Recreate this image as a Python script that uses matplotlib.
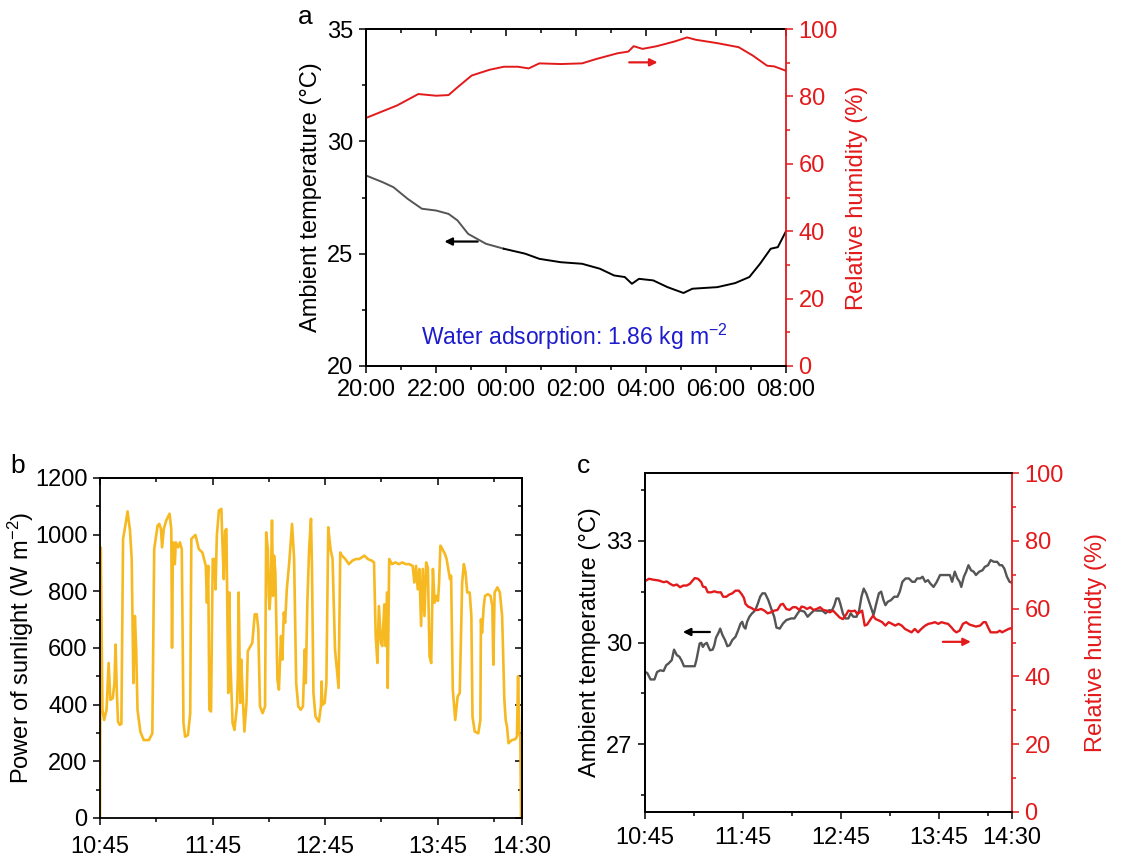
import matplotlib
matplotlib.use("Agg")
import matplotlib.pyplot as plt
from matplotlib.ticker import MultipleLocator

plt.rcParams['font.family'] = ['Liberation Sans', 'DejaVu Sans']
plt.rcParams['mathtext.fontset'] = 'custom'
plt.rcParams['mathtext.rm'] = 'Liberation Sans'
plt.rcParams['mathtext.default'] = 'regular'

RED = '#e31a1c'
GOLD = '#f6b921'
GREY = '#555555'
FS = 17

# ---- panel a data (hours after 20:00) ----
a_hours_labels = ['20:00', '22:00', '00:00', '02:00', '04:00', '06:00', '08:00']
a_rh_h = [0, 0.885, 1.495, 2.003, 2.359, 2.614, 3.020, 3.529, 3.936, 4.343, 4.648, 4.953,
          5.563, 6.173, 6.580, 7.190, 7.495, 7.648, 7.902, 8.309, 8.817, 9.173, 9.427,
          10.038, 10.648, 11.054, 11.461, 11.665, 12.0]
a_rh = [73.6, 77.3, 80.7, 80.2, 80.4, 82.7, 86.2, 87.9, 88.8, 88.8, 88.3, 89.8,
        89.6, 89.8, 91.1, 92.8, 93.3, 94.9, 94.1, 94.9, 96.3, 97.5, 96.8,
        95.8, 94.6, 92.1, 89.1, 88.9, 87.6]
a_t_h = [0, 0.478, 0.783, 1.190, 1.597, 2.003, 2.359, 2.614, 2.919, 3.427, 3.936, 4.546,
         4.953, 5.563, 6.173, 6.682, 7.088, 7.393, 7.597, 7.800, 8.207, 8.614, 9.071,
         9.326, 10.038, 10.546, 10.953, 11.258, 11.563, 11.766, 12.0]
a_temp = [28.48, 28.18, 27.96, 27.44, 27.0, 26.92, 26.77, 26.48, 25.88, 25.44, 25.22, 25.0,
          24.77, 24.62, 24.55, 24.33, 24.03, 23.96, 23.66, 23.88, 23.81, 23.51, 23.25,
          23.44, 23.51, 23.69, 23.96, 24.55, 25.22, 25.29, 26.0]

# ---- panel b data (minutes after 10:45) ----
bc_tick_labels = ['10:45', '11:45', '12:45', '13:45', '14:30']
b_min = [0, 0.4, 1.3, 2.2, 3.5, 4.6, 5.5, 6.8, 7.7, 8.3, 9.0, 9.6, 10.5, 11.4, 12.3, 13.2,
         14.7, 16.0, 16.9, 17.8, 18.6, 19.3, 20.0, 21.5, 23.3, 26.1, 27.9, 28.9, 30.7, 31.6,
         32.5, 33.1, 34.0, 35.3, 37.1, 38.0, 38.4, 38.9, 39.9, 40.4, 41.7, 42.6, 43.6, 44.5,
         45.4, 46.9, 48.1, 48.7, 50.9, 52.7, 54.6, 56.4, 57.0, 57.7, 58.3, 59.2, 60.1, 61.0,
         61.6, 62.3, 63.4, 64.7, 65.2, 66.0, 66.7, 67.4, 68.4, 68.9, 69.6, 70.7, 71.7, 73.0,
         73.5, 73.9, 74.8, 75.3, 76.1, 77.0, 78.1, 78.8, 80.3, 81.2, 82.5, 83.6, 84.4, 85.3,
         86.7, 88.0, 88.6, 89.5, 90.0, 90.4, 91.0, 91.7, 92.3, 92.8, 93.5, 94.6, 95.4, 96.5,
         97.2, 98.0, 98.7, 99.6, 100.9, 102.4, 103.5, 104.6, 105.7, 107.0, 108.2, 109.2,
         109.7, 110.6, 111.5, 112.5, 113.0, 113.8, 114.9, 116.7, 117.8, 118.2, 118.5, 119.8,
         120.7, 121.7, 122.9, 124.0, 125.3, 127.2, 128.1, 129.0, 130.8, 132.7, 134.5, 136.4,
         138.2, 141.0, 142.8, 145.0, 146.1, 147.0, 147.9, 148.7, 149.8, 150.5, 151.6, 152.3,
         153.1, 153.4, 154.2, 155.7, 157.5, 159.3, 161.2, 163.0, 164.8, 166.7, 167.6, 168.5,
         169.4, 170.3, 171.2, 172.1, 173.0, 173.9, 174.8, 175.7, 176.6, 177.5, 178.4, 179.3,
         180.2, 180.8, 181.5, 182.6, 183.9, 184.8, 185.7, 186.6, 187.2, 188.1, 189.4, 190.7,
         191.8, 192.5, 193.1, 194.0, 194.9, 195.8, 197.1, 198.0, 198.6, 199.8, 201.7, 202.8,
         203.1, 203.7, 204.6, 205.3, 206.8, 208.2, 209.2, 209.7, 210.4, 211.9, 213.2, 214.4,
         215.6, 216.3, 217.0, 217.8, 219.6, 221.4, 222.3, 222.9, 223.6, 224.1, 224.5]
b_power = [0, 955, 382, 346, 382, 547, 417, 423, 476, 612, 441, 340, 329, 332, 985, 1020,
           1082, 1014, 914, 476, 713, 595, 382, 305, 275, 275, 299, 949, 1032, 1038,
           1020, 955, 1020, 1050, 1074, 1020, 601, 973, 896, 973, 955, 973, 949, 335,
           287, 293, 370, 985, 999, 949, 937, 890, 760, 890, 382, 376, 914, 914,
           807, 997, 1085, 1091, 985, 843, 1014, 1020, 441, 796, 536, 335, 311, 394,
           500, 796, 406, 559, 429, 305, 406, 589, 607, 618, 719, 719, 666, 394,
           370, 394, 1008, 949, 784, 737, 796, 1050, 784, 926, 867, 488, 453, 642,
           559, 725, 689, 807, 902, 1038, 914, 476, 394, 382, 394, 595,
           476, 772, 949, 1056, 890, 441, 358, 340, 394, 482, 399, 406,
           476, 1026, 949, 914, 595, 459, 937, 926, 914, 896, 908, 914,
           914, 926, 914, 908, 902, 642, 547, 748, 618, 607, 754, 607,
           796, 459, 914, 896, 902, 896, 902, 896, 896, 890, 831, 890,
           807, 879, 678, 879, 713, 902, 884, 571, 547, 879, 760, 784,
           766, 831, 961, 949, 932, 914, 879, 843, 855, 453, 346, 429,
           441, 642, 831, 896, 867, 796, 796, 713, 358, 305, 299, 346,
           701, 654, 748, 784, 790, 784, 748, 541, 796, 814, 796, 713,
           417, 346, 323, 264, 275, 278, 287, 500, 299, 287, 0]

# ---- panel c data (minutes after 10:45) ----
c_t_min = [0, 1.4, 3.4, 5.8, 7.4, 9.4, 11.4, 13.0, 14.4, 16.4, 17.8, 19.5, 21.1, 22.5, 23.9,
           27.5, 30.5, 31.5, 33.5, 34.5, 35.5, 36.5, 37.9, 38.9, 39.9, 41.5, 42.5, 43.5, 45.1,
           46.1, 47.5, 49.1, 50.5, 51.9, 53.5, 55.5, 57.1, 58.6, 59.6, 60.6, 61.6, 62.6, 64.0,
           65.6, 66.8, 68.0, 69.2, 70.6, 72.0, 73.6, 75.6, 77.6, 79.2, 80.6, 82.6, 84.6, 86.6,
           89.6, 91.6, 93.6, 95.0, 97.7, 99.7, 101.7, 103.7, 105.7, 108.7, 110.7, 112.7, 114.7,
           116.1, 117.3, 118.7, 119.7, 121.3, 122.7, 124.7, 126.1, 127.7, 129.7, 131.3, 132.7,
           134.1, 135.8, 137.4, 138.8, 140.1, 141.8, 143.4, 144.8, 146.2, 147.4, 148.8, 150.8,
           152.8, 154.8, 156.2, 157.8, 159.8, 161.8, 163.8, 165.4, 166.8, 168.8, 170.2, 171.8,
           173.5, 174.9, 176.9, 178.9, 180.9, 182.9, 184.9, 186.9, 188.3, 189.9, 191.5, 192.9,
           193.9, 195.5, 196.9, 198.3, 199.9, 201.5, 202.9, 204.9, 206.9, 208.3, 210.3, 211.9,
           213.9, 215.9, 217.5, 218.9, 220.3, 221.9, 223.5, 225.0]
c_temp = [29.13, 29.10, 28.91, 28.91, 29.13, 29.18, 29.16, 29.33, 29.38, 29.48, 29.79, 29.63,
          29.58, 29.46, 29.30, 29.30, 29.30, 29.48, 29.97, 29.99, 29.87, 29.95, 29.99, 29.87,
          29.77, 29.79, 29.92, 30.14, 30.29, 30.41, 30.22, 30.07, 29.89, 29.92, 30.07, 30.17,
          30.36, 30.56, 30.61, 30.46, 30.41, 30.61, 30.76, 30.86, 30.91, 31.00, 31.15, 31.35,
          31.45, 31.45, 31.25, 30.97, 30.76, 30.44, 30.41, 30.56, 30.66, 30.71, 30.71, 30.86,
          30.95, 30.91, 30.76, 30.86, 30.95, 30.94, 30.94, 30.86, 30.95, 30.95, 31.10, 31.30,
          31.30, 31.15, 30.86, 30.71, 30.71, 30.86, 30.76, 30.76, 30.95, 31.35, 31.59, 31.43,
          31.20, 31.00, 30.81, 31.15, 31.45, 31.50, 31.25, 31.10, 31.20, 31.25, 31.35, 31.35,
          31.50, 31.79, 31.89, 31.89, 31.79, 31.79, 31.89, 31.89, 31.94, 31.79, 31.84, 31.74,
          31.64, 31.79, 31.99, 31.99, 31.99, 31.99, 31.79, 32.09, 31.89, 31.79, 31.64, 31.94,
          32.09, 32.28, 32.13, 32.09, 31.99, 32.09, 32.13, 32.23, 32.28, 32.43, 32.38, 32.38,
          32.28, 32.28, 32.18, 31.94, 31.79, 31.76]
c_rh_min = [0, 2.4, 5.4, 8.4, 11.4, 13.4, 15.4, 17.4, 19.5, 21.5, 23.5, 25.5, 27.5, 30.5,
            32.5, 34.5, 35.5, 37.1, 38.5, 40.5, 42.5, 44.5, 46.5, 47.9, 49.9, 51.5, 53.5,
            55.5, 57.5, 59.2, 60.6, 61.6, 63.2, 65.2, 67.2, 69.2, 71.2, 73.2, 75.2, 77.2,
            79.2, 81.2, 83.2, 84.6, 86.6, 88.6, 90.6, 92.6, 94.6, 96.0, 97.7, 99.3, 101.3,
            103.3, 105.3, 107.3, 109.3, 111.3, 113.3, 115.3, 117.3, 119.3, 121.3, 123.3,
            124.7, 126.7, 128.7, 130.1, 131.7, 133.1, 134.7, 136.2, 137.8, 139.8, 141.4,
            143.4, 145.4, 147.4, 149.4, 151.4, 153.4, 155.4, 157.4, 159.4, 161.4, 163.4,
            165.4, 167.4, 169.4, 171.8, 173.8, 175.8, 177.8, 179.8, 181.8, 183.8, 185.8,
            187.8, 189.5, 190.9, 192.9, 194.9, 196.9, 198.9, 200.9, 202.9, 205.5, 207.5,
            208.9, 210.3, 211.9, 213.9, 215.9, 217.5, 218.9, 220.9, 222.9, 225.0]
c_rh = [68.1, 68.8, 68.5, 68.3, 67.8, 68.0, 67.3, 66.8, 67.1, 66.3, 66.8, 66.8, 67.3, 69.0,
        68.8, 67.8, 66.5, 66.3, 64.8, 64.8, 65.1, 64.8, 64.8, 63.5, 63.5, 64.1, 64.5,
        65.3, 65.3, 64.3, 63.2, 61.4, 60.6, 60.2, 59.6, 59.6, 59.9, 59.4, 58.6, 58.9,
        59.4, 59.6, 61.2, 61.4, 59.9, 59.6, 60.4, 60.4, 59.6, 60.6, 60.4, 59.9, 60.4,
        59.6, 59.9, 60.4, 59.6, 59.4, 58.9, 59.4, 58.4, 57.4, 56.9, 58.2,
        59.4, 59.2, 59.4, 58.4, 58.9, 59.4, 55.0, 55.3, 56.5, 57.9, 56.9,
        56.5, 56.0, 55.0, 56.0, 55.5, 55.0, 55.5, 55.0, 54.0, 53.5, 53.0,
        54.0, 53.0, 54.0, 55.0, 55.5, 55.7, 56.0, 55.5, 56.0, 55.7, 55.5,
        54.5, 53.5, 53.0, 53.5, 55.5, 56.0, 55.3, 55.0, 54.7, 55.0, 56.0,
        56.0, 54.5, 53.0, 53.0, 53.0, 53.5, 53.0, 53.5, 54.0, 54.3]

W, H = 1141, 858
fig = plt.figure(figsize=(W / 100, H / 100), dpi=100)


def box(l, t, r, b):
    return [l / W, 1 - b / H, (r - l) / W, (b - t) / H]


def style(ax, color='black'):
    ax.tick_params(which='both', direction='out', labelsize=FS, width=1.1, colors=color)
    ax.tick_params(which='major', length=5, pad=4)
    ax.tick_params(which='minor', length=3)
    for s in ax.spines.values():
        s.set_linewidth(1.3)


def top_ticks(ax, major, minor):
    sec = ax.secondary_xaxis('top')
    sec.set_xticks(major)
    sec.set_xticks(minor, minor=True)
    sec.tick_params(which='both', direction='in', labeltop=False, width=1.1)
    sec.tick_params(which='major', length=5)
    sec.tick_params(which='minor', length=3)
    sec.spines['top'].set_linewidth(1.3)


# ================= panel a =================
ax = fig.add_axes(box(366, 29, 786, 366))
style(ax)
split = 10
ax.plot(a_t_h[:split + 1], a_temp[:split + 1], color=GREY, lw=1.4)
ax.plot(a_t_h[split:], a_temp[split:], color='black', lw=1.4)
ax.set_xlim(0, 12)
ax.set_ylim(20, 35)
ax.set_xticks(range(0, 13, 2))
ax.set_xticklabels(a_hours_labels)
ax.xaxis.set_minor_locator(MultipleLocator(1))
ax.yaxis.set_major_locator(MultipleLocator(5))
ax.yaxis.set_minor_locator(MultipleLocator(2.5))
ax.set_ylabel('Ambient temperature (°C)', fontsize=FS, labelpad=4)
ax.spines['right'].set_visible(False)
top_ticks(ax, range(0, 13, 2), range(1, 13, 2))
ax.annotate('', xy=(2.16, 25.54), xytext=(3.27, 25.54),
            arrowprops=dict(arrowstyle='-|>', color='black', lw=1.6, mutation_scale=11))
ax.text(5.95, 21.3, 'Water adsorption: 1.86 kg m$^{-2}$', color='#1c1ccc', fontsize=16.5,
        ha='center', va='center')

ax2 = ax.twinx()
ax2.plot(a_rh_h, a_rh, color=RED, lw=1.4)
ax2.set_ylim(0, 100)
ax2.yaxis.set_major_locator(MultipleLocator(20))
ax2.yaxis.set_minor_locator(MultipleLocator(10))
style(ax2, RED)
ax2.spines['right'].set_color(RED)
ax2.spines['top'].set_visible(False)
ax2.set_ylabel('Relative humidity (%)', fontsize=FS, color=RED, labelpad=6)
ax2.annotate('', xy=(8.41, 90.1), xytext=(7.44, 90.1),
             arrowprops=dict(arrowstyle='-|>', color=RED, lw=1.6, mutation_scale=11))
fig.text(305 / W, 1 - 17 / H, 'a', fontsize=19, ha='center', va='center')

# ================= panel b =================
bx = fig.add_axes(box(100, 478, 522, 818))
style(bx)
bx.tick_params(axis='x', which='major', pad=8)
bx.plot(b_min, b_power, color=GOLD, lw=1.9)
bx.set_xlim(0, 225)
bx.set_ylim(0, 1200)
bx.set_xticks([0, 60, 120, 180, 225])
bx.set_xticklabels(bc_tick_labels)
bx.set_xticks([30, 90, 150, 210], minor=True)
bx.yaxis.set_major_locator(MultipleLocator(200))
bx.yaxis.set_minor_locator(MultipleLocator(100))
bx.set_ylabel('Power of sunlight (W m$^{-2}$)', fontsize=FS, labelpad=-1)
top_ticks(bx, [0, 60, 120, 180, 225], [30, 90, 150, 210])
# right-side ticks point inward
sec_r = bx.secondary_yaxis('right')
sec_r.yaxis.set_major_locator(MultipleLocator(200))
sec_r.yaxis.set_minor_locator(MultipleLocator(100))
sec_r.tick_params(which='both', direction='in', labelright=False, width=1.1)
sec_r.tick_params(which='major', length=5)
sec_r.tick_params(which='minor', length=3)
sec_r.spines['right'].set_linewidth(1.3)
fig.text(18 / W, 1 - 466 / H, 'b', fontsize=19, ha='center', va='center')

# ================= panel c =================
cx = fig.add_axes(box(645, 473, 1012, 812))
style(cx)
cx.tick_params(axis='x', which='major', pad=6)
cx.plot(c_t_min, c_temp, color=GREY, lw=1.7)
cx.set_xlim(0, 225)
cx.set_ylim(25, 35)
cx.set_xticks([0, 60, 120, 180, 225])
cx.set_xticklabels(bc_tick_labels)
cx.set_xticks([30, 90, 150, 210], minor=True)
cx.set_yticks([27, 30, 33])
cx.set_yticks([25.5, 28.5, 31.5, 34.5], minor=True)
cx.set_ylabel('Ambient temperature (°C)', fontsize=FS, labelpad=4)
cx.spines['right'].set_visible(False)
cx.annotate('', xy=(21.5, 30.31), xytext=(41.5, 30.31),
            arrowprops=dict(arrowstyle='-|>', color='black', lw=1.6, mutation_scale=11))

cx2 = cx.twinx()
cx2.plot(c_rh_min, c_rh, color=RED, lw=1.7)
cx2.set_ylim(0, 100)
cx2.yaxis.set_major_locator(MultipleLocator(20))
cx2.yaxis.set_minor_locator(MultipleLocator(10))
style(cx2, RED)
cx2.spines['right'].set_color(RED)
cx2.set_ylabel('Relative humidty (%)', fontsize=FS, color=RED, labelpad=15)
cx2.annotate('', xy=(201.5, 50.2), xytext=(180.9, 50.2),
             arrowprops=dict(arrowstyle='-|>', color=RED, lw=1.6, mutation_scale=11))
fig.text(584 / W, 1 - 466 / H, 'c', fontsize=19, ha='center', va='center')

fig.savefig('out.png', dpi=100)
